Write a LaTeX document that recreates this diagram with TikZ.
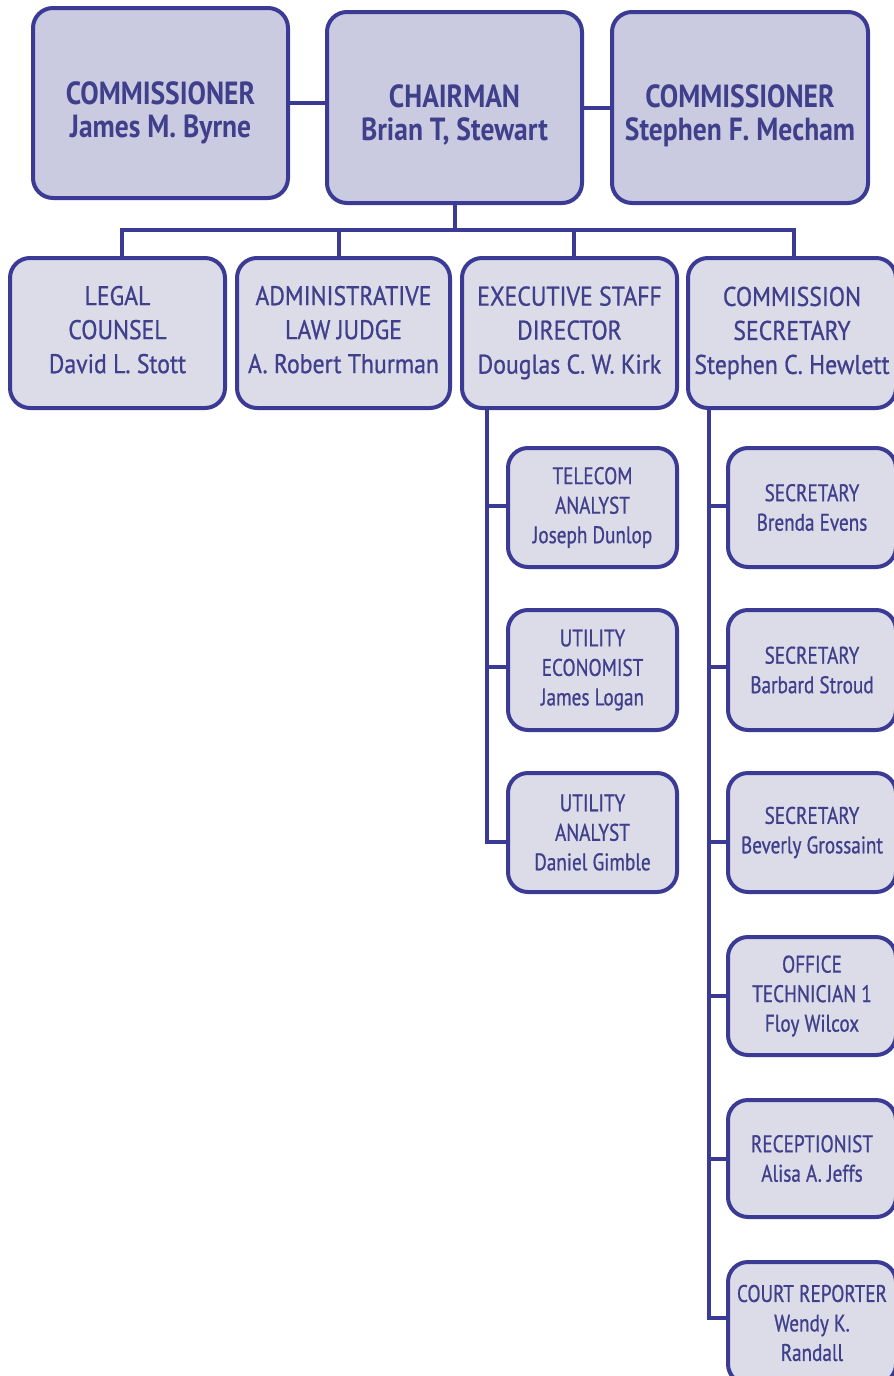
\documentclass[tikz,border=0pt]{standalone}
\usepackage{fontspec}
\setmainfont{PT Sans}
\newfontfamily\topfont{PT Sans}[FakeStretch=0.86]
\newfontfamily\midfont{PT Sans}[FakeStretch=0.88,FakeBold=0.8]
\newfontfamily\subfont{PT Sans}[FakeStretch=0.8,FakeBold=0.8]
\newcommand{\upstrut}[1]{\rule{0pt}{#1}}
\newcommand{\dnstrut}[1]{\rule[-#1]{0pt}{0pt}}
\definecolor{bord}{HTML}{3B3B96}
\definecolor{txt}{HTML}{3F3F8C}
\definecolor{topfill}{HTML}{CACAE0}
\definecolor{boxfill}{HTML}{DCDCE9}
\begin{document}
\begin{tikzpicture}[x=1pt,y=-1pt,
  box/.style={draw=bord, line width=4pt, rounded corners=20pt, fill=boxfill,
    text=txt, align=center, inner sep=0pt, outer sep=0pt, anchor=north west},
  topbox/.style={box, fill=topfill, font=\topfont\fontsize{32}{33}\selectfont\bfseries},
  midbox/.style={box, font=\midfont\fontsize{27}{34}\selectfont},
  subbox/.style={box, font=\subfont\fontsize{24}{29.5}\selectfont},
  link/.style={draw=bord, line width=4pt}]
\useasboundingbox (0,0) rectangle (894,1376);
\fill[white] (0,0) rectangle (894,1376);
\clip (0,0) rectangle (894,1376);
% top row
\node[topbox, minimum width=255pt, minimum height=190pt] (comL) at (33,8) {\upstrut{42pt}COMMISSIONER\\James M. Byrne};
\node[topbox, minimum width=255pt, minimum height=191pt] (chair) at (327,12) {\upstrut{38pt}CHAIRMAN\\Brian T, Stewart};
\node[topbox, minimum width=256pt, minimum height=191pt] (comR) at (612,12) {\upstrut{40pt}COMMISSIONER\\Stephen F. Mecham};
% second row
\node[midbox, minimum width=215pt, minimum height=150pt] (legal) at (10,258) {LEGAL\\COUNSEL\\David L. Stott\dnstrut{7pt}};
\node[midbox, minimum width=213pt, minimum height=150pt] (alj) at (237,258) {ADMINISTRATIVE\\LAW JUDGE\\A. Robert Thurman\dnstrut{7pt}};
\node[midbox, minimum width=215pt, minimum height=150pt] (exec) at (462,258) {EXECUTIVE STAFF\\DIRECTOR\\Douglas C. W. Kirk\dnstrut{6pt}};
\node[midbox, minimum width=208pt, minimum height=150pt] (csec) at (688,258) {COMMISSION\\SECRETARY\\Stephen C. Hewlett\dnstrut{5pt}};
% executive staff
\node[subbox, minimum width=169pt, minimum height=119pt] (tel) at (508,448) {TELECOM\\ANALYST\\Joseph Dunlop};
\node[subbox, minimum width=169pt, minimum height=120pt] (ueco) at (508,610) {UTILITY\\ECONOMIST\\James Logan};
\node[subbox, minimum width=169pt, minimum height=119pt] (uana) at (508,773) {UTILITY\\ANALYST\\Daniel Gimble};
% commission secretary staff
\node[subbox, minimum width=168pt, minimum height=119pt] (sec1) at (728,448) {SECRETARY\\Brenda Evens};
\node[subbox, minimum width=168pt, minimum height=120pt] (sec2) at (728,610) {SECRETARY\\Barbard Stroud};
\node[subbox, minimum width=168pt, minimum height=119pt] (sec3) at (728,773) {SECRETARY\\Beverly Grossaint};
\node[subbox, minimum width=168pt, minimum height=118pt] (otech) at (728,937) {OFFICE\\TECHNICIAN 1\\Floy Wilcox};
\node[subbox, minimum width=168pt, minimum height=117pt] (recep) at (728,1100) {RECEPTIONIST\\Alisa A. Jeffs};
\node[subbox, minimum width=168pt, minimum height=122pt] (court) at (728,1262) {COURT REPORTER\\Wendy K.\\Randall};
% connectors
\draw[link] (comL.east) -- (comL.east -| chair.west);
\draw[link] (chair.west -| chair.east) -- (chair.west -| comR.west);
\coordinate (bus) at (454.5,230);
\draw[link] (chair.south) -- (bus);
\draw[link] (bus) -| ([xshift=4.5pt]legal.north);
\draw[link] (bus) -| ([xshift=-4.5pt]alj.north);
\draw[link] (bus) -| ([xshift=4.5pt]exec.north);
\draw[link] (bus) -| ([xshift=1.5pt]csec.north);
\coordinate (etrunk) at (487,408);
\draw[link] (etrunk) |- ([yshift=2pt]tel.west);
\draw[link] (etrunk) |- ([yshift=3pt]ueco.west);
\draw[link] (etrunk) |- ([yshift=-9pt]uana.west);
\coordinate (strunk) at (709,408);
\draw[link] (strunk) |- ([yshift=2pt]sec1.west);
\draw[link] (strunk) |- ([yshift=3pt]sec2.west);
\draw[link] (strunk) |- ([yshift=-9pt]sec3.west);
\draw[link] (strunk) |- (otech.west);
\draw[link] (strunk) |- (recep.west);
\draw[link] (strunk) |- ([yshift=5pt]court.west);
\end{tikzpicture}
\end{document}
